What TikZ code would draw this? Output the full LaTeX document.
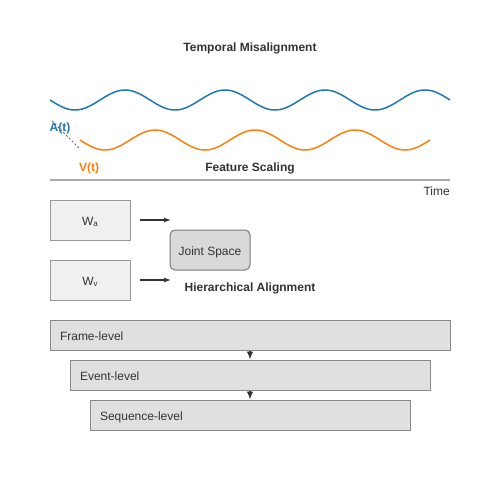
\documentclass[tikz,border=0pt]{standalone}
\usepackage{fontspec}
\setmainfont{Liberation Sans}
\usetikzlibrary{arrows.meta}
\definecolor{wblue}{HTML}{1F77B4}
\definecolor{worange}{HTML}{FF7F0E}
\definecolor{txt}{HTML}{333333}
\definecolor{edge}{HTML}{999999}
\definecolor{axis}{HTML}{AAAAAA}
\begin{document}
\begin{tikzpicture}[x=1pt,y=-1pt,
  every node/.style={text=txt,font=\fontsize{12}{14}\selectfont,inner sep=0pt,text height=11pt,text depth=0pt},
  ttl/.style={font=\fontsize{12}{14}\selectfont\bfseries},
  wbox/.style={draw=edge,fill=black!6,line width=1pt,minimum width=80pt,minimum height=40pt},
  jbox/.style={draw=edge!80!black,fill=black!15,line width=1pt,rounded corners=5pt,minimum width=80pt,minimum height=40pt},
  lbox/.style={draw=edge!90!black,fill=black!12,line width=1pt,minimum height=30pt,text width=#1,inner xsep=10pt,align=left},
  arr/.style={draw=txt,line width=1.2pt,-{Latex[length=7pt,width=5pt]}},
  varr/.style={draw=txt,line width=1.2pt,-{Latex[length=8pt,width=6.5pt]}},
  wave/.style={line width=1.5pt}]
\useasboundingbox (0,0) rectangle (500,500);
\fill[white] (0,0) rectangle (500,500);
% title
\node[ttl] (t1) at (250,46) {Temporal Misalignment};
% waves
\draw[wave,wblue] plot[domain=50:450,samples=200] (\x,{100+10*sin(3.6*(\x-50))});
\draw[wave,worange] plot[domain=80:430,samples=180] (\x,{140+10*sin(3.6*(\x-80))});
\node[ttl,text=wblue] (la) at (60,126) {A(t)};
\node[ttl,text=worange] (lv) at (89,166) {V(t)};
\coordinate (d1) at (52,121);
\coordinate (d2) at (79,148);
\draw[dashed,black!60,line width=0.8pt,dash pattern=on 2pt off 2pt] (d1) -- (d2);
\node[ttl] (fs) at (250,166) {Feature Scaling};
% time axis
\coordinate (ax1) at (50,180);
\coordinate (ax2) at (450,180);
\draw[axis,line width=2pt] (ax1) -- (ax2);
\node[anchor=east] (tm) at (450,190) {Time};
% W boxes
\node[wbox] (wa) at (90,220) {W\raisebox{-1pt}{\fontsize{8}{9}\selectfont a}};
\node[wbox] (wv) at (90,280) {W\raisebox{-1pt}{\fontsize{8}{9}\selectfont v}};
\coordinate (a1s) at (140,220); \coordinate (a1e) at (171,220);
\coordinate (a2s) at (140,280); \coordinate (a2e) at (171,280);
\draw[arr] (a1s) -- (a1e);
\draw[arr] (a2s) -- (a2e);
\node[jbox] (js) at (210,250) {Joint Space};
\node[ttl] (ha) at (250,286) {Hierarchical Alignment};
% levels
\node[lbox=380pt] (fl) at (250,335) {Frame-level};
\node[lbox=340pt] (el) at (250,375) {Event-level};
\node[lbox=300pt] (sl) at (250,415) {Sequence-level};
\draw[varr] (fl.south) -- (el.north);
\draw[varr] (el.south) -- (sl.north);
\end{tikzpicture}
\end{document}
